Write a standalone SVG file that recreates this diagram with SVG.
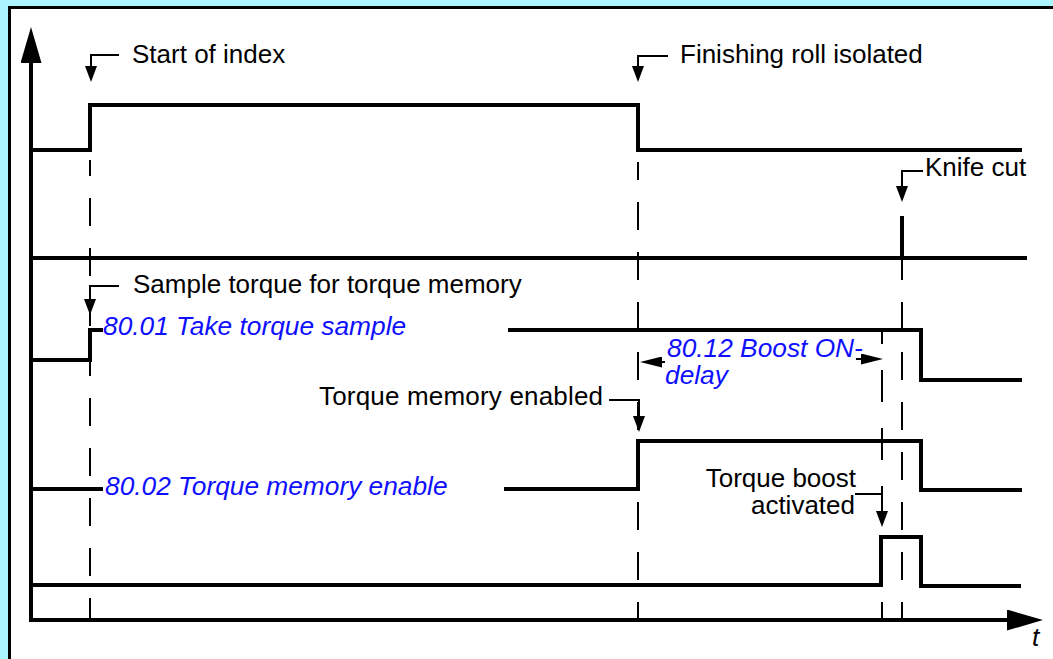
<svg xmlns="http://www.w3.org/2000/svg" width="1053" height="659" viewBox="0 0 1053 659">
<style>
.sig{fill:none;stroke:#000;stroke-width:4;stroke-linejoin:miter;stroke-linecap:butt}
.axis{fill:none;stroke:#000;stroke-width:4}
.dash{fill:none;stroke:#000;stroke-width:2;stroke-dasharray:28 22}
.call{fill:none;stroke:#000;stroke-width:2}
.lbl{font-family:"Liberation Sans",Arial,sans-serif;font-size:26px;fill:#000}
.par{font-family:"Liberation Sans",Arial,sans-serif;font-size:26.3px;font-style:italic;fill:#0f0fff}
</style>
<defs>
<marker id="ah" viewBox="0 0 16 12" refX="0" refY="6" markerWidth="16" markerHeight="12" markerUnits="userSpaceOnUse" orient="auto"><path d="M0 0L16 6L0 12Z" fill="#000"/></marker>
<marker id="dim" viewBox="0 0 22 11" refX="0" refY="5.5" markerWidth="22" markerHeight="11" markerUnits="userSpaceOnUse" orient="auto"><path d="M0 0L22 5.5L0 11Z" fill="#000"/></marker>
<marker id="ax" viewBox="0 0 36 21" refX="0" refY="10.5" markerWidth="36" markerHeight="21" markerUnits="userSpaceOnUse" orient="auto"><path d="M0 0L36 10.5L0 21Z" fill="#000"/></marker>
</defs>
<rect x="0" y="0" width="1053" height="659" fill="#aaf5ff"/>
<rect x="9.5" y="7.5" width="1060" height="670" fill="#fff" stroke="#000" stroke-width="3"/>
<g id="axes">
<path class="axis" d="M31 621V63" marker-end="url(#ax)"/>
<path class="axis" d="M29 620H1007" marker-end="url(#ax)"/>
<text class="par" x="1032" y="646" style="fill:#000">t</text>
</g>
<g id="dashed-lines">
<path class="dash" d="M90 160V620" stroke-dashoffset="12"/>
<path class="dash" d="M638 162V620" stroke-dashoffset="10"/>
<path class="dash" d="M882 332V620" style="stroke-dasharray:32 26" stroke-dashoffset="20"/>
<path class="dash" d="M902 258V620" stroke-dashoffset="6"/>
</g>
<g id="signal-start-of-index">
<path class="sig" d="M31 150H90V105H638V150H1022"/>
</g>
<g id="signal-knife-cut">
<path class="sig" d="M31 258H1027"/>
<path class="sig" d="M902 216V258"/>
</g>
<g id="signal-take-torque-sample">
<path class="sig" d="M31 360H90V330H103"/>
<path class="sig" d="M508 330H921V380H1022"/>
</g>
<g id="signal-torque-memory-enable">
<path class="sig" d="M31 489H103"/>
<path class="sig" d="M504 489H638V441H921V490H1022"/>
</g>
<g id="signal-torque-boost">
<path class="sig" d="M31 585H881V537H921V586H1021"/>
</g>
<g id="connectors">
<path class="call" d="M119 55H91V66" marker-end="url(#ah)"/>
<path class="call" d="M668 56H638V66" marker-end="url(#ah)"/>
<path class="call" d="M923 171H902V186" marker-end="url(#ah)"/>
<path class="call" d="M119 286H90V299" marker-end="url(#ah)"/>
<path class="call" d="M609 400H639V416" marker-end="url(#ah)"/>
<path class="call" d="M855 494H882V511" marker-end="url(#ah)"/>
<path class="call" d="M665 362H662" marker-end="url(#dim)"/>
<path class="call" d="M856 359H861" marker-end="url(#dim)"/>
</g>
<g id="labels">
<text class="lbl" x="132" y="63">Start of index</text>
<text class="lbl" x="680" y="63">Finishing roll isolated</text>
<text class="lbl" x="925" y="176">Knife cut</text>
<text class="lbl" x="133" y="293">Sample torque for torque memory</text>
<text class="par" x="103" y="335">80.01 Take torque sample</text>
<text class="par" x="667" y="357">80.12 Boost ON-</text>
<text class="par" x="665" y="384">delay</text>
<text class="lbl" x="603" y="405" text-anchor="end" textLength="284">Torque memory enabled</text>
<text class="par" x="105" y="495">80.02 Torque memory enable</text>
<text class="lbl" x="856" y="487" text-anchor="end">Torque boost</text>
<text class="lbl" x="855" y="514" text-anchor="end">activated</text>
</g>
</svg>
